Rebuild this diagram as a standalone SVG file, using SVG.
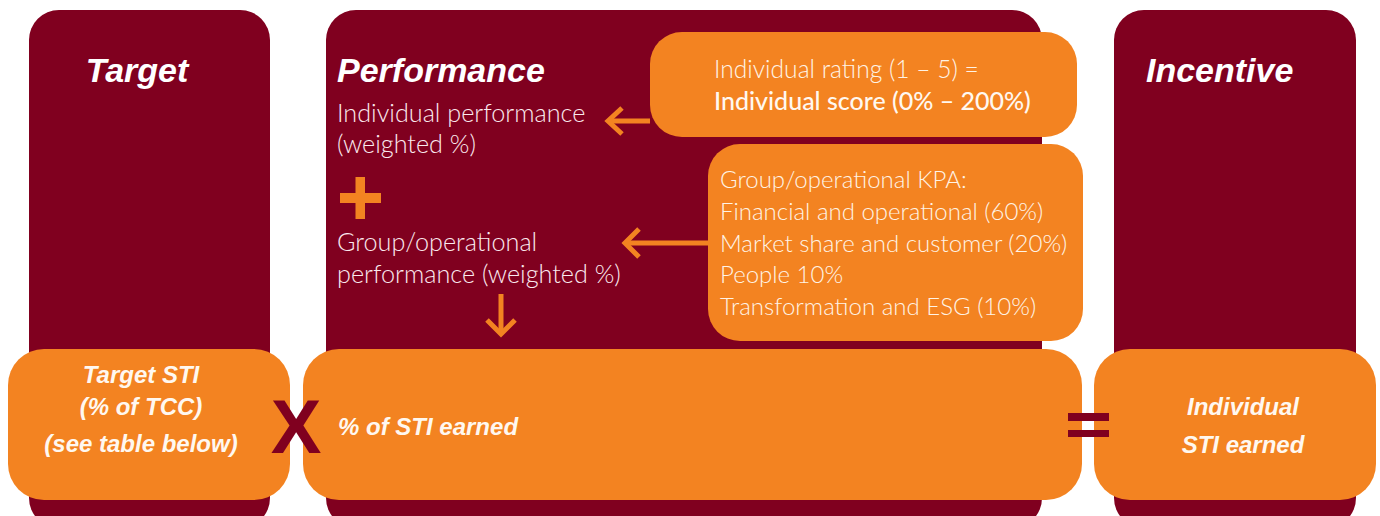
<svg xmlns="http://www.w3.org/2000/svg" width="1380" height="516" viewBox="0 0 1380 516">
  <defs>
    <style>
      .col { fill: #80001f; }
      .box { fill: #f38321; }
      .head { font-family: "Liberation Sans", Arial, sans-serif; font-weight: 700; font-style: italic; font-size: 34px; fill: #ffffff; }
      .bi { font-family: "Liberation Sans", Arial, sans-serif; font-weight: 700; font-style: italic; font-size: 24px; fill: #fff8f0; }
      .light { font-family: Lato, "Open Sans", sans-serif; font-weight: 300; font-size: 25.2px; fill: #fbe9ee; }
      .lightbox { font-family: Lato, "Open Sans", sans-serif; font-weight: 300; font-size: 24px; fill: #fff3e6; }
      .rating { font-size: 24.6px; }
      .semi { font-family: Lato, "Open Sans", sans-serif; font-weight: 500; font-size: 25px; fill: #fff8f0; }
      .arrow { fill: none; stroke: #f38321; stroke-width: 5; stroke-linecap: butt; stroke-linejoin: miter; }
      .op { fill: #80001f; }
    </style>
  </defs>

  <!-- Three column panels -->
  <g id="target">
    <rect class="col" x="29" y="10" width="241" height="518" rx="30" ry="30"/>
    <text class="head" x="137" y="82" text-anchor="middle">Target</text>
  </g>
  <g id="performance">
    <rect class="col" x="326" y="10" width="716" height="518" rx="30" ry="30"/>
    <text class="head" x="337" y="82">Performance</text>
    <text class="light" x="337" y="122">Individual performance</text>
    <text class="light" x="337" y="153">(weighted %)</text>
    <text class="light" x="337" y="251">Group/operational</text>
    <text class="light" x="337" y="283">performance (weighted %)</text>
  </g>
  <g id="incentive">
    <rect class="col" x="1114" y="10" width="242" height="518" rx="30" ry="30"/>
    <text class="head" x="1146" y="82">Incentive</text>
  </g>

  <!-- Inputs to performance -->
  <g id="individual-rating">
    <rect class="box" x="650" y="32" width="427" height="105" rx="32" ry="32"/>
    <text class="lightbox rating" x="714" y="78">Individual rating (1 – 5) =</text>
    <text class="semi" x="714" y="110">Individual score (0% – 200%)</text>
  </g>
  <g id="group-kpa">
    <rect class="box" x="708" y="144" width="375" height="197" rx="32" ry="32"/>
    <text class="lightbox" x="720" y="188">Group/operational KPA:</text>
    <text class="lightbox" x="720" y="220">Financial and operational (60%)</text>
    <text class="lightbox" x="720" y="252">Market share and customer (20%)</text>
    <text class="lightbox" x="720" y="283">People 10%</text>
    <text class="lightbox" x="720" y="315">Transformation and ESG (10%)</text>
  </g>

  <!-- Bottom row of results -->
  <g id="target-sti">
    <rect class="box" x="8" y="349" width="282" height="151" rx="36" ry="36"/>
    <text class="bi" x="141" y="383" text-anchor="middle">Target STI</text>
    <text class="bi" x="141" y="415" text-anchor="middle">(% of TCC)</text>
    <text class="bi" x="141" y="452" text-anchor="middle">(see table below)</text>
  </g>
  <g id="sti-earned">
    <rect class="box" x="303" y="349" width="779" height="151" rx="36" ry="36"/>
    <text class="bi" x="338" y="435">% of STI earned</text>
  </g>
  <g id="individual-sti">
    <rect class="box" x="1094" y="349" width="282" height="151" rx="36" ry="36"/>
    <text class="bi" x="1243" y="415" text-anchor="middle">Individual</text>
    <text class="bi" x="1243" y="453" text-anchor="middle">STI earned</text>
  </g>

  <!-- Operators -->
  <g id="operators">
    <rect x="355.5" y="177" width="9.5" height="42" fill="#f38321"/>
    <rect x="340" y="193" width="41" height="10" fill="#f38321"/>
    <text x="296" y="453" text-anchor="middle" font-family="Liberation Sans, Arial, sans-serif" font-weight="700" font-size="76" fill="#80001f">X</text>
    <rect class="op" x="1068" y="413" width="41" height="8"/>
    <rect class="op" x="1068" y="430" width="41" height="7"/>
  </g>

  <!-- Connectors -->
  <g id="connectors">
    <path class="arrow" d="M650 121 H608"/>
    <path class="arrow" d="M622 108 L608 121 L622 134"/>
    <path class="arrow" d="M708 243 H625"/>
    <path class="arrow" d="M639 229 L625 243 L639 257"/>
    <path class="arrow" d="M501 294 V334"/>
    <path class="arrow" d="M487 320 L501 334 L515 320"/>
  </g>
</svg>
